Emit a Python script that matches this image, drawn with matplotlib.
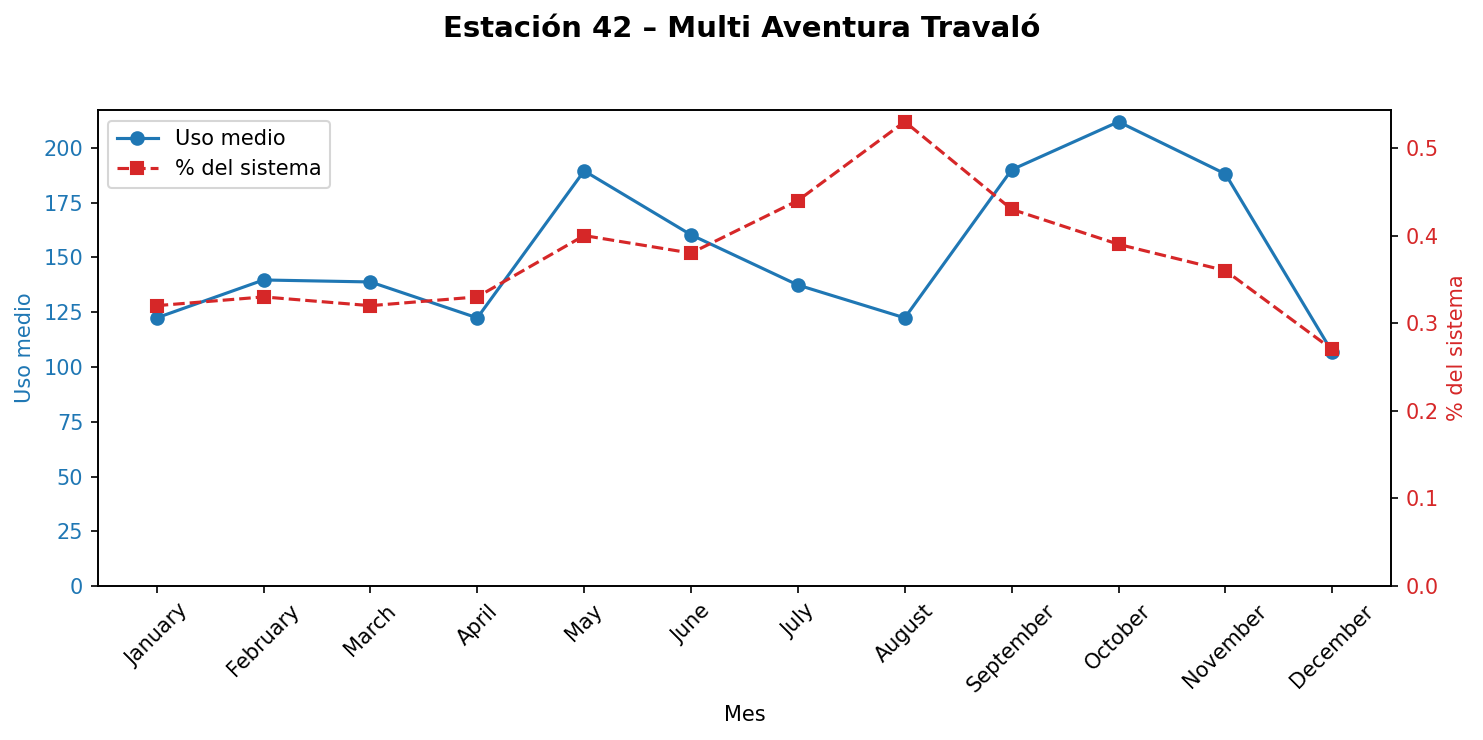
import matplotlib.pyplot as plt

months = ['January', 'February', 'March', 'April', 'May', 'June', 'July',
          'August', 'September', 'October', 'November', 'December']
uso_medio = [122.4, 139.7, 138.8, 122.4, 189.5, 160.3, 137.4, 122.4, 190.0, 211.9, 188.1, 106.8]
pct_sistema = [0.32, 0.33, 0.32, 0.33, 0.40, 0.38, 0.44, 0.53, 0.43, 0.39, 0.36, 0.27]

fig, ax1 = plt.subplots(figsize=(1483 / 150, 740 / 150), dpi=150)
fig.subplots_adjust(left=0.066, right=0.938, top=0.851, bottom=0.208)

l1, = ax1.plot(months, uso_medio, color='tab:blue', marker='o', label='Uso medio')
ax1.set_ylim(bottom=0)
ax1.set_xlabel('Mes')
ax1.set_ylabel('Uso medio', color='tab:blue')
ax1.tick_params(axis='y', labelcolor='tab:blue')
ax1.tick_params(axis='x', rotation=45)

ax2 = ax1.twinx()
l2, = ax2.plot(months, pct_sistema, color='tab:red', marker='s', linestyle='--', label='% del sistema')
ax2.set_ylim(bottom=0)
ax2.set_ylabel('% del sistema', color='tab:red')
ax2.tick_params(axis='y', labelcolor='tab:red')

ax1.legend(handles=[l1, l2], loc='upper left')
fig.suptitle('Estación 42 – Multi Aventura Travaló', fontsize=14, fontweight='bold')

plt.savefig('out.png', dpi=150)
